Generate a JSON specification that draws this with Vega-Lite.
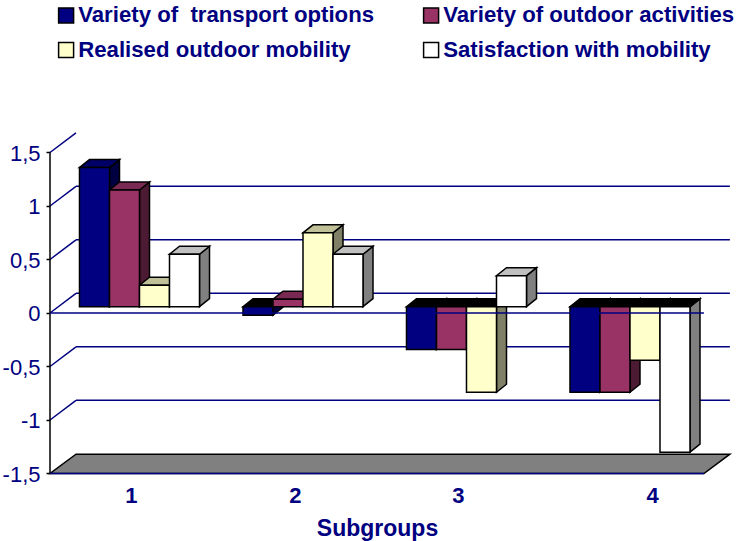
{
"$schema":"https://vega.github.io/schema/vega-lite/v6.json",
"width":736,"height":541,"padding":0,"autosize":{"type":"none"},
"background":"white",
"config":{"view":{"stroke":null},"font":"Liberation Sans"},
"data":{"values":[
{"group":1,"bar":0,"series":"Variety of  transport options","value":1.3},
{"group":1,"bar":1,"series":"Variety of outdoor activities","value":1.09},
{"group":1,"bar":2,"series":"Realised outdoor mobility","value":0.2},
{"group":1,"bar":3,"series":"Satisfaction with mobility","value":0.49},
{"group":2,"bar":0,"series":"Variety of  transport options","value":-0.08},
{"group":2,"bar":1,"series":"Variety of outdoor activities","value":0.07},
{"group":2,"bar":2,"series":"Realised outdoor mobility","value":0.69},
{"group":2,"bar":3,"series":"Satisfaction with mobility","value":0.49},
{"group":3,"bar":0,"series":"Variety of  transport options","value":-0.4},
{"group":3,"bar":1,"series":"Variety of outdoor activities","value":-0.4},
{"group":3,"bar":2,"series":"Realised outdoor mobility","value":-0.8},
{"group":3,"bar":3,"series":"Satisfaction with mobility","value":0.29},
{"group":4,"bar":0,"series":"Variety of  transport options","value":-0.8},
{"group":4,"bar":1,"series":"Variety of outdoor activities","value":-0.8},
{"group":4,"bar":2,"series":"Realised outdoor mobility","value":-0.5},
{"group":4,"bar":3,"series":"Satisfaction with mobility","value":-1.36}
]},
"transform":[
{"calculate":"datum.group+datum.bar*0.1835","as":"l"},
{"calculate":"datum.l+0.1835","as":"r"},
{"calculate":"min(datum.value,0)","as":"low"},
{"calculate":"max(datum.value,0)","as":"high"}
],
"encoding":{
"x":{"field":"px","type":"quantitative","scale":{"domain":[0.5138,5.0154],"range":[0,736],"nice":false,"zero":false},
"axis":{"orient":"bottom","offset":-56,"values":[1.315,2.318,3.315,4.503],"labelExpr":"floor(datum.value)","domain":false,"ticks":false,"grid":false,"labelFlush":false,"labelOverlap":false,"labelPadding":0,"labelFont":"Liberation Sans","labelFontWeight":"bold","labelFontSize":22,"labelColor":"#000080","title":"Subgroups","titleFont":"Liberation Sans","titleFontWeight":"bold","titleFontSize":23,"titleColor":"#000080","titleX":377,"titleY":43,"titleBaseline":"middle"}},
"y":{"field":"py","type":"quantitative","scale":{"domain":[-2.19,2.866],"range":[541,0],"nice":false,"zero":false},
"axis":{"orient":"left","offset":-50,"values":[-1.5,-1,-0.5,0,0.5,1,1.5],"labelExpr":"replace(''+datum.value,'.',',')","domain":false,"grid":false,"tickSize":4,"tickColor":"black","tickWidth":1.5,"tickOffset":6.3,"labelOffset":0.8,"labelPadding":6,"labelOverlap":false,"labelFlush":false,"labelFont":"Liberation Sans","labelFontSize":22,"labelColor":"#000080","title":null}}
},
"layer":[
{"data":{"values":[{"level":1},{"level":0.5},{"level":0},{"level":-0.5},{"level":-1}]},
"transform":[{"calculate":"0.9786","as":"px"},{"calculate":"4.978","as":"px2"},{"calculate":"datum.level+0.125","as":"py"}],
"mark":{"type":"rule","color":"#000080","strokeWidth":1.5},
"encoding":{"x2":{"field":"px2"}}},
{"data":{"values":[{"level":1.5},{"level":1},{"level":0.5},{"level":0},{"level":-0.5},{"level":-1}]},
"transform":[{"calculate":"0.8196","as":"px"},{"calculate":"0.9786","as":"px2"},{"calculate":"datum.level-0.059","as":"py"},{"calculate":"datum.level+0.125","as":"py2"}],
"mark":{"type":"rule","color":"#000080","strokeWidth":1.5},
"encoding":{"x2":{"field":"px2"},"y2":{"field":"py2"}}},
{"data":{"values":[{"level":-1.5}]},
"transform":[{"calculate":"[0,1,2,3]","as":"c"},{"flatten":["c"]},
{"calculate":"[0.8196,0.9786,4.8191,4.978][datum.c]","as":"px"},
{"calculate":"[-1.559,-1.559,-1.559,-1.379][datum.c]","as":"py"},
{"calculate":"[-1.559,-1.379,-1.379,-1.379][datum.c]","as":"py2"}],
"mark":{"type":"area","fill":"#808080","stroke":"black","strokeWidth":1.5,"interpolate":"linear"},
"encoding":{"y2":{"field":"py2"}}},
{"data":{"values":[{"top":1.5,"bottom":-1.5}]},
"transform":[{"calculate":"0.8196","as":"px"},{"calculate":"datum.top-0.059","as":"py"},{"calculate":"datum.bottom-0.059","as":"py2"}],
"mark":{"type":"rule","color":"black","strokeWidth":1.5},
"encoding":{"y2":{"field":"py2"}}},
{"transform":[{"calculate":"[0,1]","as":"k"},{"flatten":["k"]},
{"calculate":"datum.r+datum.k*0.0612","as":"px"},
{"calculate":"datum.low+datum.k*0.0748","as":"py"},
{"calculate":"datum.high+datum.k*0.0748","as":"py2"}],
"mark":{"type":"area","stroke":"black","strokeWidth":1.5,"interpolate":"linear"},
"encoding":{"y2":{"field":"py2"},"detail":[{"field":"group"},{"field":"bar"}],
"fill":{"field":"series","type":"nominal","legend":null,"scale":{"domain":["Variety of  transport options","Variety of outdoor activities","Realised outdoor mobility","Satisfaction with mobility"],"range":["#000040","#4d1a33","#808066","#808080"]}}}},
{"transform":[{"calculate":"[0,1,2,3]","as":"c"},{"flatten":["c"]},
{"calculate":"[datum.l,datum.l+0.0612,datum.r,datum.r+0.0612][datum.c]","as":"px"},
{"calculate":"[datum.high,datum.high,datum.high,datum.high+0.0748][datum.c]","as":"py"},
{"calculate":"[datum.high,datum.high+0.0748,datum.high+0.0748,datum.high+0.0748][datum.c]","as":"py2"},
{"calculate":"datum.value<0?'below':datum.series","as":"topface"}],
"mark":{"type":"area","stroke":"black","strokeWidth":1.5,"interpolate":"linear"},
"encoding":{"y2":{"field":"py2"},"detail":[{"field":"group"},{"field":"bar"}],
"fill":{"field":"topface","type":"nominal","legend":null,"scale":{"domain":["Variety of  transport options","Variety of outdoor activities","Realised outdoor mobility","Satisfaction with mobility","below"],"range":["#000066","#7a2952","#c0c099","#c0c0c0","#000000"]}}}},
{"transform":[{"calculate":"datum.l","as":"px"},{"calculate":"datum.r","as":"px2"},{"calculate":"datum.low","as":"py"},{"calculate":"datum.high","as":"py2"}],
"mark":{"type":"rect","stroke":"black","strokeWidth":1.5},
"encoding":{"x2":{"field":"px2"},"y2":{"field":"py2"},
"fill":{"field":"series","type":"nominal",
"scale":{"domain":["Variety of  transport options","Variety of outdoor activities","Realised outdoor mobility","Satisfaction with mobility"],"range":["#000080","#993366","#ffffcc","#ffffff"]},
"legend":{"orient":"none","legendX":55,"legendY":4,"direction":"horizontal","columns":2,"title":null,"symbolType":"square","symbolSize":225,"symbolStrokeColor":"black","symbolStrokeWidth":1.5,"symbolOpacity":1,"labelFont":"Liberation Sans","labelFontWeight":"bold","labelFontSize":22.2,"labelColor":"#000080","labelLimit":400,"labelOffset":1,"rowPadding":12,"columnPadding":45,"labelExpr":"replace(datum.label,'  ',' \u00a0')"}}}},
{"data":{"values":[{"level":0}]},
"transform":[{"calculate":"0.8196","as":"px"},{"calculate":"4.8191","as":"px2"},{"calculate":"datum.level-0.059","as":"py"}],
"mark":{"type":"rule","color":"#000080","strokeWidth":1.5},
"encoding":{"x2":{"field":"px2"}}},
{"data":{"values":[{"level":-1.5}]},
"transform":[{"calculate":"0.8196","as":"px"},{"calculate":"4.8191","as":"px2"},{"calculate":"datum.level-0.059","as":"py"}],
"mark":{"type":"rule","color":"#000080","strokeWidth":1.5},
"encoding":{"x2":{"field":"px2"}}}
],
"resolve":{"scale":{"fill":"independent"}}
}
